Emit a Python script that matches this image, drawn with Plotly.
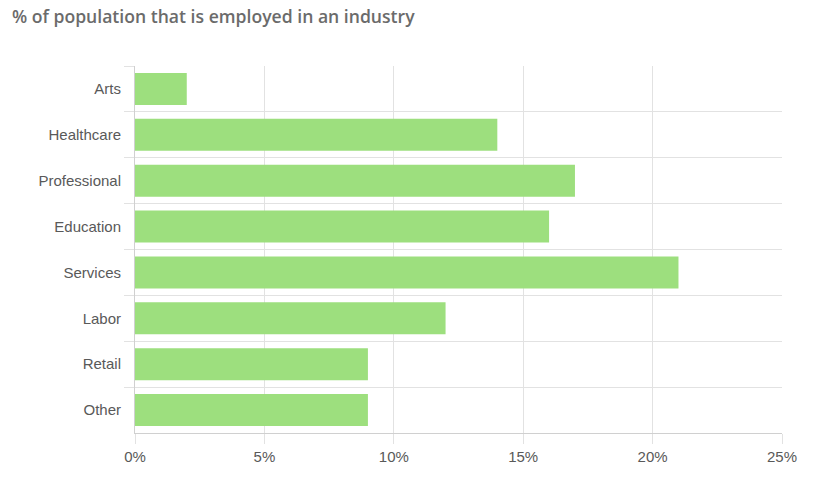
import plotly.graph_objects as go

categories = ["Arts", "Healthcare", "Professional", "Education", "Services", "Labor", "Retail", "Other"]
values = [2, 14, 17, 16, 21, 12, 9, 9]
x_ticks = [0, 5, 10, 15, 20, 25]
x_tick_labels = ["0%", "5%", "10%", "15%", "20%", "25%"]

fig = go.Figure(go.Bar(
    x=values, y=categories, orientation="h",
    marker=dict(color="#9ddf7e", line=dict(width=0)),
    hoverinfo="x+y",
))

W, H = 818, 482
fig.update_layout(
    width=W, height=H,
    margin=dict(l=135, r=36, t=66, b=49),
    paper_bgcolor="white", plot_bgcolor="white",
    bargap=0.3,
    showlegend=False,
    title=dict(text="% of population that is employed in an industry",
               x=12 / W, xanchor="left", y=1 - 17 / H, yanchor="middle",
               font=dict(family="Open Sans", size=17.6, color="#6b6b6b", weight=600)),
    font=dict(family="Liberation Sans, Arial", size=15, color="#595959"),
)

fig.update_xaxes(
    range=[0, 25], tickvals=x_ticks, ticktext=x_tick_labels,
    showgrid=True, gridcolor="#e2e2e2", gridwidth=1,
    ticks="outside", ticklen=10, tickcolor="#e2e2e2",
    showline=True, linecolor="#d0d0d0", linewidth=1,
    zeroline=False, fixedrange=True,
)
fig.update_yaxes(
    categoryorder="array", categoryarray=categories, autorange="reversed",
    tickson="boundaries", showgrid=True, gridcolor="#e2e2e2", gridwidth=1,
    ticks="outside", ticklen=10, tickcolor="#e2e2e2",
    ticklabelstandoff=10,
    showline=True, linecolor="#d0d0d0", linewidth=1,
    zeroline=False, fixedrange=True,
)

fig.write_html("out.html", config={"displayModeBar": False},
               post_script="document.body.style.margin='0';document.body.style.overflow='hidden';")
